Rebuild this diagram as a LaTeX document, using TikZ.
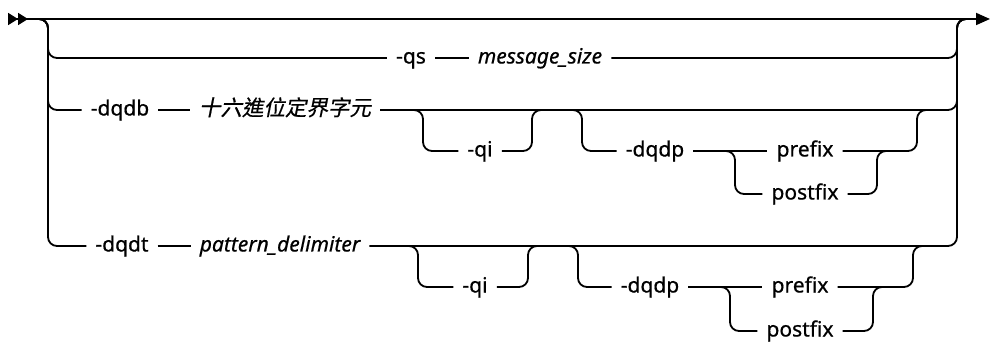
\documentclass[tikz,border=0pt]{standalone}
\usepackage{fontspec}
\setmainfont{Noto Sans}[FakeBold=0.6]
\newfontfamily\cjkit[FakeSlant=0.2,FakeBold=0.6]{Noto Sans CJK TC}
\usetikzlibrary{arrows.meta}

\begin{document}
\begin{tikzpicture}[x=1pt,y=-1pt,
  rail/.style={line width=1.8pt,rounded corners=9pt},
  word/.style={inner xsep=9pt,inner ysep=0pt,text height=11pt,text depth=0pt,
    font=\fontsize{21}{25}\selectfont},
  var/.style={word,font=\fontsize{21}{25}\selectfont\itshape}]
\useasboundingbox (0,0) rectangle (990,347);
% main line and the two bars
\coordinate (begin) at (8,19);\coordinate (finish) at (990,19);
\coordinate (L0) at (38,19);\coordinate (lbar) at (48,19);
\coordinate (rbar) at (957,19);\coordinate (R0) at (967,19);
\draw[rail,{Triangle[reversed,length=10pt,width=12pt]Triangle[reversed,length=10pt,width=12pt]}-{Triangle[length=14pt,width=12pt]}] (begin) -- (finish);
% -qs
\node[word] (qs) at (411,58) {-qs};
\node[var] (msgsize) at (540,58) {message\_size};
\draw[rail] (L0) -| (lbar |- qs.west) -- (qs.west);
\draw[rail] (qs) -- (msgsize);
\draw[rail] (msgsize.east) -| (rbar) -- (R0);
% -dqdb
\node[word] (dqdb) at (120,110) {-dqdb};
\node[word,font=\fontsize{21.5}{25}\selectfont\cjkit] (hexdelim) at (285,110) {十六進位定界字元};
\draw[rail] (L0) -| (lbar |- dqdb.west) -- (dqdb.west);
\draw[rail] (dqdb) -- (hexdelim);
\draw[rail] (hexdelim.east) -| (rbar) -- (R0);
\coordinate (qiAin) at (413,110);\coordinate (qiAout) at (532,110);
\node[word] (qiA) at (480,151) {-qi};
\draw[rail] (qiAin) -- ++(10,0) |- (qiA.west);
\draw[rail] (qiA.east) -| (qiAout) -- ++(10,0);
\coordinate (dqdpAin) at (572,110);\coordinate (dqdpAout) at (917,110);
\node[word] (dqdpA) at (655,151) {-dqdp};
\node[word] (prefixA) at (805,151) {prefix};
\node[word] (postfixA) at (805,194) {postfix};
\coordinate (splitA) at (725,151);\coordinate (joinA) at (877,151);
\draw[rail] (dqdpAin) -- ++(10,0) |- (dqdpA.west);
\draw[rail] (dqdpA) -- (prefixA);
\draw[rail] (splitA) -- ++(10,0) |- (postfixA.west);
\draw[rail] (postfixA.east) -| (joinA) -- ++(10,0);
\draw[rail] (prefixA.east) -| (dqdpAout) -- ++(10,0);
% -dqdt
\node[word] (dqdt) at (122,246) {-dqdt};
\node[var] (patdelim) at (280,246) {pattern\_delimiter};
\draw[rail] (L0) -| (lbar |- dqdt.west) -- (dqdt.west);
\draw[rail] (dqdt) -- (patdelim);
\draw[rail] (patdelim.east) -| (rbar) -- (R0);
\coordinate (qiBin) at (408,246);\coordinate (qiBout) at (528,246);
\node[word] (qiB) at (475,287) {-qi};
\draw[rail] (qiBin) -- ++(10,0) |- (qiB.west);
\draw[rail] (qiB.east) -| (qiBout) -- ++(10,0);
\coordinate (dqdpBin) at (568,246);\coordinate (dqdpBout) at (913,246);
\node[word] (dqdpB) at (650,287) {-dqdp};
\node[word] (prefixB) at (800,287) {prefix};
\node[word] (postfixB) at (800,331) {postfix};
\coordinate (splitB) at (720,287);\coordinate (joinB) at (873,287);
\draw[rail] (dqdpBin) -- ++(10,0) |- (dqdpB.west);
\draw[rail] (dqdpB) -- (prefixB);
\draw[rail] (splitB) -- ++(10,0) |- (postfixB.west);
\draw[rail] (postfixB.east) -| (joinB) -- ++(10,0);
\draw[rail] (prefixB.east) -| (dqdpBout) -- ++(10,0);
\end{tikzpicture}
\end{document}
